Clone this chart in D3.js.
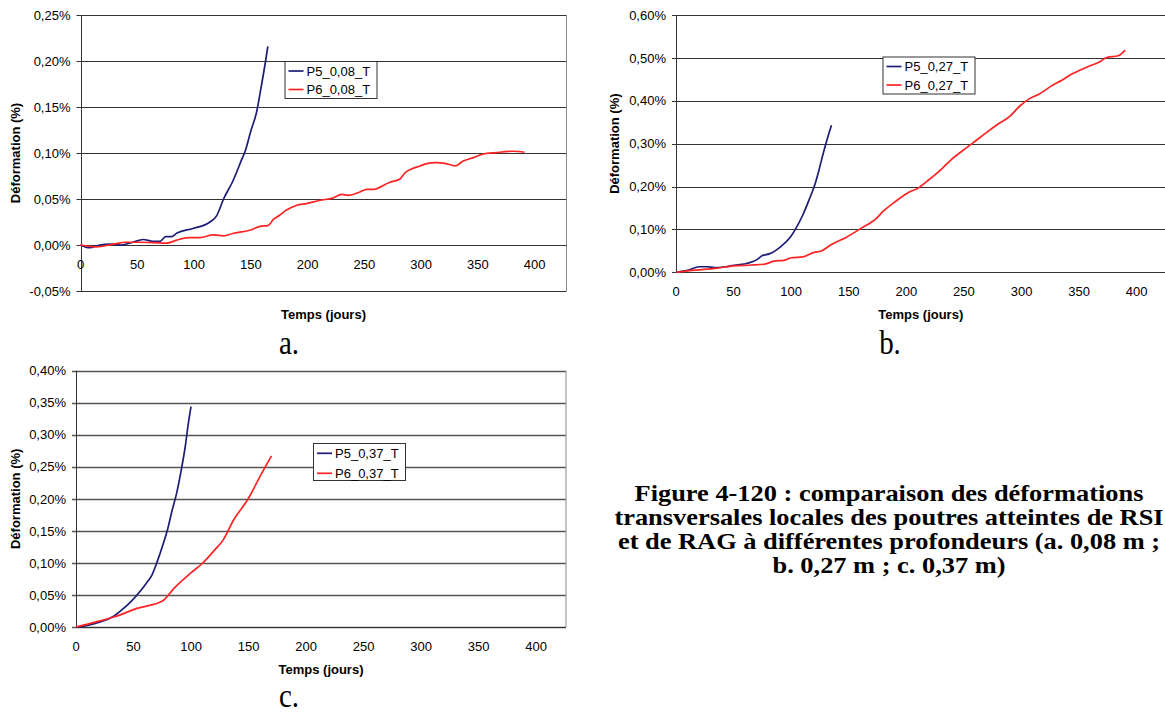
<!DOCTYPE html>
<html>
<head>
<meta charset="utf-8">
<script src="https://d3js.org/d3.v7.min.js"></script>
<title>D3</title>
<style>
  body { margin: 0; background: #fff; }
  svg { display: block; }
  text { font-family: "Liberation Sans", Arial, sans-serif; fill: #000; }
  .tick-label { font-size: 13px; }
  .axis-title { font-size: 13px; font-weight: bold; }
  .legend-text { font-size: 13px; }
  .caption { font-family: "Liberation Serif", "Times New Roman", serif; }
</style>
</head>
<body>
<script>
// x ticks (jours), common to the 3 charts
var xTicks = [0, 50, 100, 150, 200, 250, 300, 350, 400];

// a. 0,08 m
var yTicksA = [-0.05, 0, 0.05, 0.10, 0.15, 0.20, 0.25];
var namesA = ["P5_0,08_T", "P6_0,08_T"];
var daysA5 = [0, 8, 17, 26, 36, 46, 55, 64, 70, 75, 80, 85, 99, 114, 120, 126, 134, 142, 145, 150, 155, 159, 163, 165];
var defA5 = [0, -0.003, 0, 0.001, 0, 0.003, 0.006, 0.004, 0.004, 0.009, 0.009, 0.013, 0.018, 0.025, 0.032, 0.050, 0.069, 0.093, 0.102, 0.124, 0.144, 0.171, 0.200, 0.216];
var daysA6 = [0, 14, 29, 40, 52, 64, 76, 84, 95, 105, 117, 126, 134, 149, 159, 165, 170, 175, 181, 190, 199, 211, 222, 230, 236, 246, 252, 258, 272, 281, 286, 291, 299, 305, 313, 321, 330, 337, 346, 354, 366, 381, 391];
var defA6 = [0, -0.002, 0.001, 0.003, 0.003, 0.0025, 0.002, 0.005, 0.008, 0.008, 0.011, 0.010, 0.0125, 0.016, 0.0205, 0.021, 0.028, 0.032, 0.0377, 0.043, 0.045, 0.0486, 0.051, 0.055, 0.054, 0.0576, 0.0605, 0.0605, 0.068, 0.0714, 0.0787, 0.0823, 0.0859, 0.0885, 0.0896, 0.0888, 0.0859, 0.0913, 0.095, 0.0986, 0.1004, 0.1019, 0.1008];

// b. 0,27 m
var yTicksB = [0, 0.10, 0.20, 0.30, 0.40, 0.50, 0.60];
var namesB = ["P5_0,27_T", "P6_0,27_T"];
var daysB5 = [0, 11, 20, 27, 33, 43, 52, 62, 70, 75, 81, 91, 99, 104, 110, 116, 120, 124, 127, 131, 135];
var defB5 = [0, 0.005, 0.013, 0.013, 0.011, 0.013, 0.017, 0.021, 0.029, 0.039, 0.043, 0.060, 0.081, 0.102, 0.133, 0.172, 0.200, 0.237, 0.269, 0.308, 0.343];
var daysB6 = [0, 17, 34, 50, 65, 77, 85, 94, 100, 110, 120, 126, 135, 148, 161, 174, 180, 190, 204, 209, 219, 231, 239, 249, 257, 270, 280, 289, 299, 307, 315, 325, 335, 345, 358, 368, 374, 384, 390];
var defB6 = [0, 0.005, 0.009, 0.015, 0.017, 0.019, 0.026, 0.028, 0.034, 0.036, 0.0465, 0.0495, 0.065, 0.082, 0.103, 0.126, 0.1425, 0.164, 0.189, 0.194, 0.2147, 0.242, 0.263, 0.284, 0.300, 0.327, 0.3465, 0.362, 0.389, 0.405, 0.415, 0.433, 0.448, 0.464, 0.480, 0.491, 0.501, 0.505, 0.518];

// c. 0,37 m
var yTicksC = [0, 0.05, 0.10, 0.15, 0.20, 0.25, 0.30, 0.35, 0.40];
var namesC = ["P5_0,37_T", "P6_0,37_T"];
var daysC5 = [0, 11, 21, 32, 40, 48, 54.5, 61, 66, 70.6, 75.5, 80, 83, 87.5, 92, 95, 97.7, 100];
var defC5 = [0, 0.003, 0.008, 0.016, 0.027, 0.040, 0.053, 0.068, 0.081, 0.102, 0.128, 0.155, 0.178, 0.209, 0.250, 0.282, 0.318, 0.344];
var daysC6 = [0, 17.6, 33.6, 53, 75.5, 85, 99.6, 110, 120.5, 128, 137, 150, 160, 170];
var defC6 = [0, 0.008, 0.016, 0.029, 0.041, 0.060, 0.084, 0.0995, 0.120, 0.136, 0.167, 0.201, 0.235, 0.267];

var captionLines = [
  "Figure 4-120 : comparaison des déformations",
  "transversales locales des poutres atteintes de RSI",
  "et de RAG à différentes profondeurs (a. 0,08 m ;",
  "b. 0,27 m ; c. 0,37 m)"
];

var colP5 = "#1d1d78", colP6 = "#ff2424";

var frLocale = d3.formatLocale({decimal: ",", thousands: " ", grouping: [3], currency: ["", ""], minus: "-"});
var pct = frLocale.format(".2f");

var svg = d3.select("body").append("svg")
    .attr("width", 1165)
    .attr("height", 713);

function zip(days, vals) {
  return days.map(function (d, i) { return [d, vals[i]]; });
}

function drawChart(c) {
  var x = d3.scaleLinear().domain([0, c.xMax]).range([c.left, c.right]);
  var y = d3.scaleLinear().domain(d3.extent(c.yTicks)).range([c.bottom, c.top]);
  var g = svg.append("g");

  // gridlines + y ticks
  g.selectAll(".grid").data(c.yTicks).enter().append("line")
      .attr("x1", c.left - 4).attr("x2", c.right)
      .attr("y1", function (d) { return Math.round(y(d)) + 0.5; })
      .attr("y2", function (d) { return Math.round(y(d)) + 0.5; })
      .attr("stroke", c.gridColor).attr("stroke-width", c.gridWidth);

  // right border
  g.append("line")
      .attr("x1", c.right).attr("x2", c.right)
      .attr("y1", c.top).attr("y2", c.bottom)
      .attr("stroke", "#8a8a8a");
  // y axis line
  g.append("line")
      .attr("x1", Math.round(c.left) + 0.5).attr("x2", Math.round(c.left) + 0.5)
      .attr("y1", c.top).attr("y2", c.bottom)
      .attr("stroke", "#333");
  // x axis (at 0)
  g.append("line")
      .attr("x1", c.left).attr("x2", c.right)
      .attr("y1", Math.round(y(0)) + 0.5).attr("y2", Math.round(y(0)) + 0.5)
      .attr("stroke", "#333");

  g.selectAll(".ylab").data(c.yTicks).enter().append("text")
      .attr("class", "tick-label")
      .attr("x", c.left - 10)
      .attr("y", function (d) { return y(d); })
      .attr("dy", "0.36em")
      .attr("text-anchor", "end")
      .text(function (d) { return pct(d) + "%"; });

  g.selectAll(".xlab").data(xTicks).enter().append("text")
      .attr("class", "tick-label")
      .attr("x", function (d) { return x(d); })
      .attr("y", y(0) + 19.5)
      .attr("dy", "0.36em")
      .attr("text-anchor", "middle")
      .text(function (d) { return d; });

  g.append("text")
      .attr("class", "axis-title")
      .attr("x", (c.left + c.right) / 2)
      .attr("y", c.xTitleY)
      .attr("dy", "0.36em")
      .attr("text-anchor", "middle")
      .text("Temps (jours)");

  g.append("text")
      .attr("class", "axis-title")
      .attr("transform", "translate(" + c.yTitleX + "," + (c.top + c.bottom) / 2 + ") rotate(-90)")
      .attr("dy", "0.36em")
      .attr("text-anchor", "middle")
      .text("Déformation (%)");

  var line = d3.line()
      .x(function (d) { return x(d[0]); })
      .y(function (d) { return y(d[1]); })
      .curve(d3.curveMonotoneX);

  c.series.forEach(function (s, i) {
    g.append("path")
        .attr("d", line(s))
        .attr("fill", "none")
        .attr("stroke", i === 0 ? colP5 : colP6)
        .attr("stroke-width", 1.7);
  });

  // legend
  var L = c.legend;
  g.append("rect")
      .attr("x", L.x + 0.5).attr("y", L.y + 0.5)
      .attr("width", L.w).attr("height", L.h)
      .attr("fill", "#fff").attr("stroke", "#333");
  c.names.forEach(function (n, i) {
    var ly = L.rows[i];
    g.append("line")
        .attr("x1", L.x + 4).attr("x2", L.x + 19)
        .attr("y1", ly).attr("y2", ly)
        .attr("stroke", i === 0 ? colP5 : colP6)
        .attr("stroke-width", 1.7);
    g.append("text")
        .attr("class", "legend-text")
        .attr("x", L.x + 22).attr("y", ly)
        .attr("dy", "0.36em")
        .text(n);
  });

  // sub-figure letter (scan is a bit stretched vertically)
  svg.append("text")
      .attr("class", "caption")
      .attr("transform", "translate(" + c.capX + "," + c.capY + ") scale(1,1.15)")
      .attr("font-size", 29)
      .attr("text-anchor", "middle")
      .text(c.caption);
}

drawChart({
  left: 80.5, right: 566.5, top: 15, bottom: 291, xMax: 428,
  yTicks: yTicksA, names: namesA,
  series: [zip(daysA5, defA5), zip(daysA6, defA6)],
  gridColor: "#333", gridWidth: 1,
  xTitleY: 314, yTitleX: 15,
  legend: {x: 284.5, y: 61, w: 92, h: 37, rows: [71, 89.5]},
  caption: "a.", capX: 289, capY: 354
});

drawChart({
  left: 676, right: 1165.5, top: 15, bottom: 272.3, xMax: 425,
  yTicks: yTicksB, names: namesB,
  series: [zip(daysB5, defB5), zip(daysB6, defB6)],
  gridColor: "#333", gridWidth: 1,
  xTitleY: 314, yTitleX: 614,
  legend: {x: 882.5, y: 56.5, w: 92, h: 37, rows: [66.5, 85]},
  caption: "b.", capX: 890, capY: 354
});

drawChart({
  left: 76, right: 566, top: 370.7, bottom: 627, xMax: 426,
  yTicks: yTicksC, names: namesC,
  series: [zip(daysC5, defC5), zip(daysC6, defC6)],
  gridColor: "#555", gridWidth: 1.3,
  xTitleY: 669, yTitleX: 15,
  legend: {x: 313, y: 443, w: 92, h: 37, rows: [453.3, 473.3]},
  caption: "c.", capX: 289, capY: 707
});

// figure caption, slightly widened like the scanned original
var cap = svg.append("g")
    .attr("transform", "translate(889,0) scale(1.1,1)");
cap.selectAll("text").data(captionLines).enter().append("text")
    .attr("class", "caption")
    .attr("x", 0)
    .attr("y", function (d, i) { return 501 + i * 24; })
    .attr("font-size", 24)
    .attr("font-weight", "bold")
    .attr("text-anchor", "middle")
    .text(function (d) { return d; });
</script>
</body>
</html>
